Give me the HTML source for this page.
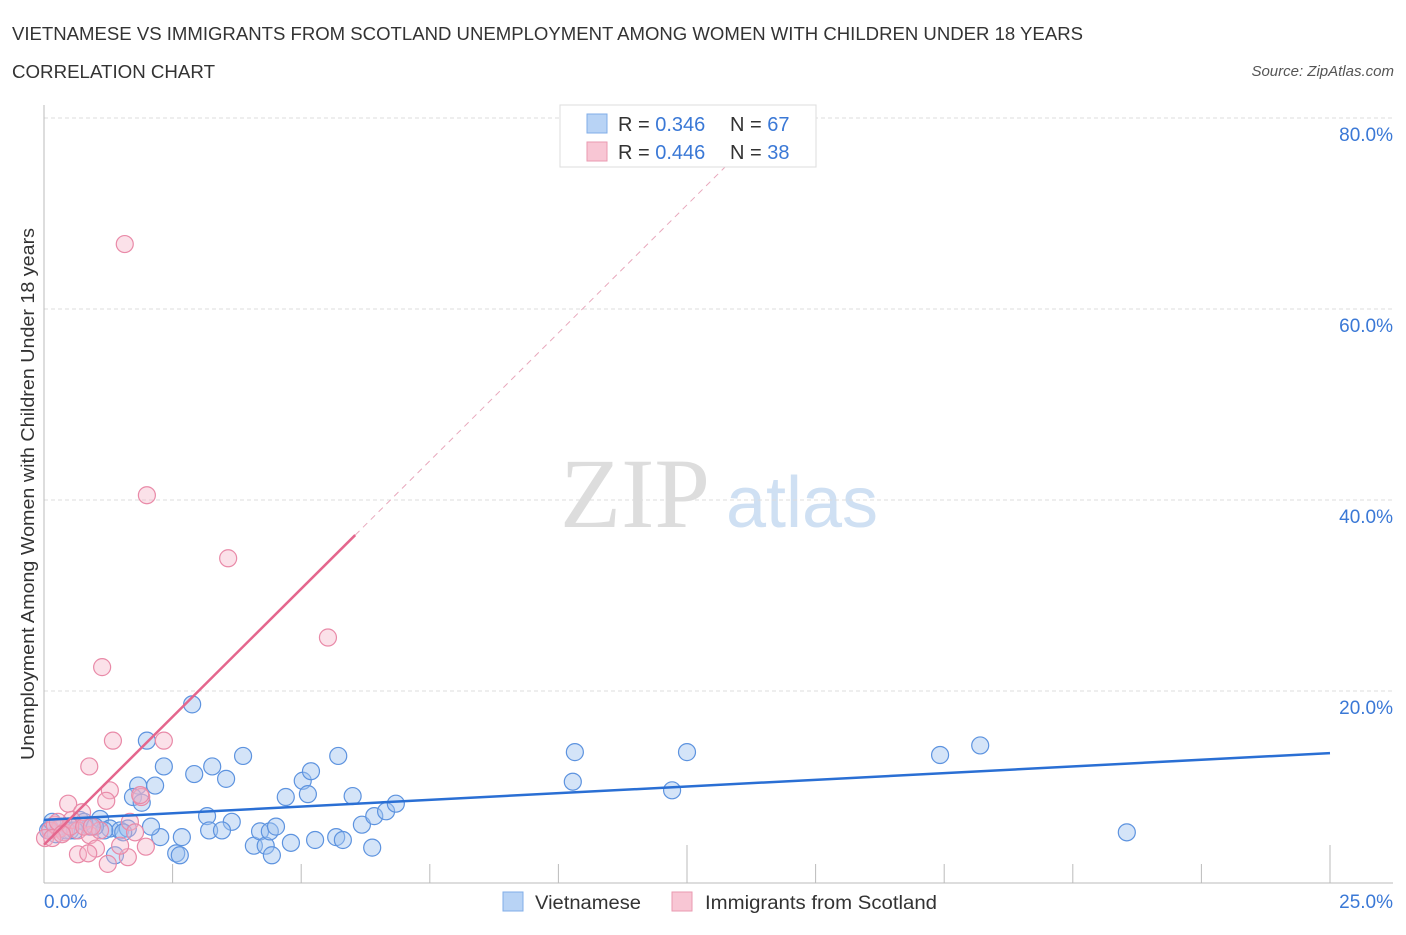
<!DOCTYPE html>
<html><head><meta charset="utf-8"><style>
body{margin:0;background:#fff;font-family:"Liberation Sans",sans-serif;}
</style></head><body>
<svg id="chart" width="1406" height="930" xmlns="http://www.w3.org/2000/svg" font-family="Liberation Sans, sans-serif">
<text x="12" y="40" font-size="18" fill="#333" textLength="1071" lengthAdjust="spacingAndGlyphs">VIETNAMESE VS IMMIGRANTS FROM SCOTLAND UNEMPLOYMENT AMONG WOMEN WITH CHILDREN UNDER 18 YEARS</text>
<text x="12" y="78" font-size="18" fill="#333" textLength="203" lengthAdjust="spacingAndGlyphs">CORRELATION CHART</text>
<text x="1394" y="76" font-size="15" fill="#555" font-style="italic" text-anchor="end">Source: ZipAtlas.com</text>
<text x="635" y="527" font-size="100" fill="#ddd" style="font-family:'Liberation Serif',serif" text-anchor="middle">ZIP</text>
<text x="802" y="527" font-size="72" fill="#cfe0f3" text-anchor="middle">atlas</text>
<text transform="translate(34,494) rotate(-90)" font-size="18" fill="#333" text-anchor="middle" textLength="532" lengthAdjust="spacingAndGlyphs">Unemployment Among Women with Children Under 18 years</text>
<g id="grid"></g><g id="axes"></g><g id="pts"></g><g id="lines"></g>
<g>
<rect x="560" y="105" width="256" height="62" fill="#fff" stroke="#ddd"/>
<rect x="587" y="114" width="20" height="19" fill="#b8d3f5" stroke="#80aee8"/>
<rect x="587" y="142" width="20" height="19" fill="#f8c6d4" stroke="#ea9ab0"/>
<text x="618" y="131" font-size="20" fill="#333">R = <tspan fill="#3a78d6">0.346</tspan></text>
<text x="730" y="131" font-size="20" fill="#333">N = <tspan fill="#3a78d6">67</tspan></text>
<text x="618" y="159" font-size="20" fill="#333">R = <tspan fill="#3a78d6">0.446</tspan></text>
<text x="730" y="159" font-size="20" fill="#333">N = <tspan fill="#3a78d6">38</tspan></text>
</g>
<g>
<rect x="503" y="892" width="20" height="19" fill="#b8d3f5" stroke="#80aee8"/>
<text x="535" y="909" font-size="19" fill="#333" textLength="106" lengthAdjust="spacingAndGlyphs">Vietnamese</text>
<rect x="672" y="892" width="20" height="19" fill="#f8c6d4" stroke="#ea9ab0"/>
<text x="705" y="909" font-size="19" fill="#333" textLength="232" lengthAdjust="spacingAndGlyphs">Immigrants from Scotland</text>
</g>
</svg>
<script>
const yTicks=[20,40,60,80];
const xTickLabels=["0.0%","25.0%"];
const blueX=[2.88,2,2.33,2.92,3.27,3.54,3.87,1.83,2.16,1.73,1.9,3.17,3.65,3.21,3.46,2.68,2.26,2.08,2.57,2.64,4.08,4.2,4.31,4.39,4.43,4.51,4.7,4.8,5.03,5.19,5.13,5.27,5.72,5.68,5.81,6,6.18,6.38,6.42,6.65,6.84,10.32,10.28,12.5,12.21,17.42,18.2,21.05,0.31,0.51,0.89,1.09,1.28,1.48,1.17,0.7,0.12,0.23,0.43,0.78,1.63,1.38,0.99,0.6,1.54,0.08,0.16];
const blueY=[18.6,14.8,12.1,11.3,12.1,10.8,13.2,10.1,10.1,8.9,8.3,6.9,6.3,5.4,5.4,4.7,4.7,5.8,3,2.8,3.8,5.3,3.8,5.3,2.8,5.8,8.9,4.1,10.6,11.6,9.2,4.4,13.2,4.7,4.4,9,6,3.6,6.9,7.4,8.2,13.6,10.5,13.6,9.6,13.3,14.3,5.2,5.8,5.4,5.8,6.6,5.6,5.4,5.4,6.5,5.6,5,5.4,6.3,5.6,2.8,5.8,5.4,5.2,5.4,6.3,5];
const pinkX=[1.57,2,3.58,5.52,1.13,1.34,2.33,0.88,1.28,1.89,1.21,0.47,0.74,1.87,1.67,0.31,0.12,0.21,0.39,0.54,0.66,0.89,1.01,0.66,0.86,1.24,1.63,1.98,1.48,1.77,0.02,0.16,0.51,0.78,1.09,0.27,0.35,0.93];
const pinkY=[66.8,40.5,33.9,25.6,22.5,14.8,14.8,12.1,9.6,8.9,8.5,8.2,7.3,9.1,6.3,5.6,5.4,6,5.2,6.5,5.4,4.9,3.5,2.9,3,1.9,2.6,3.7,3.8,5.2,4.6,4.6,5.8,5.8,5.4,6.3,5,5.8];
const trendIntercept=[6.5,3.9];
const trendSlope=[0.28,5.36];
const x=v=>44+v*51.44, y=v=>882-v*9.55;
const NS="http://www.w3.org/2000/svg";
function mk(p,t,a){const e=document.createElementNS(NS,t);for(const k in a)e.setAttribute(k,a[k]);document.getElementById(p).appendChild(e);return e;}
yTicks.forEach(t=>{
 const l=mk('grid','line',{x1:44,x2:1393,y1:y(t),y2:y(t),stroke:'#ddd','stroke-dasharray':'4,3'});
 
 
 const tx=mk('grid','text',{x:1393,y:y(t)+23,'font-size':19,fill:'#3a78d6','text-anchor':'end'});tx.textContent=t.toFixed(1)+'%';
 
 
});
let a=mk('axes','line',{x1:44,x2:44,y1:105,y2:883,stroke:'#bbb'});


a=mk('axes','line',{x1:44,x2:1393,y1:883,y2:883,stroke:'#bbb'});


for(let i=1;i<=10;i++){const v=i*2.5;const tall=(i==5||i==10);
 const t=mk('axes','line',{x1:x(v),x2:x(v),y1:tall?845:864,y2:883,stroke:'#bbb'});
 
 }
[[0,'start',44],[1,'end',1393]].forEach(([i,an,px])=>{const t=mk('axes','text',{x:px,y:908,'font-size':19,fill:'#3a78d6','text-anchor':an});t.textContent=xTickLabels[i];
 
 });
blueX.forEach((v,i)=>{const c=mk('pts','circle',{cx:x(v),cy:y(blueY[i]),r:8.5,fill:'rgba(160,195,240,0.45)',stroke:'#5d93df','stroke-width':1.2});
 
 });
pinkX.forEach((v,i)=>{const c=mk('pts','circle',{cx:x(v),cy:y(pinkY[i]),r:8.5,fill:'rgba(245,180,200,0.4)',stroke:'#e98aa8','stroke-width':1.2});
 
 });
let l=mk('lines','line',{x1:x(0),y1:y(trendIntercept[0]),x2:x(25),y2:y(trendIntercept[0]+25*trendSlope[0]),stroke:'#2a6fd4','stroke-width':2.5});


l=mk('lines','line',{x1:x(0),y1:y(trendIntercept[1]),x2:x(6.05),y2:y(trendIntercept[1]+6.05*trendSlope[1]),stroke:'#e4668d','stroke-width':2.5});


l=mk('lines','line',{x1:x(6.05),y1:y(trendIntercept[1]+6.05*trendSlope[1]),x2:x(13.3),y2:y(trendIntercept[1]+13.3*trendSlope[1]),stroke:'#e8a8bc','stroke-width':1,'stroke-dasharray':'6,5'});


</script>
</body></html>
